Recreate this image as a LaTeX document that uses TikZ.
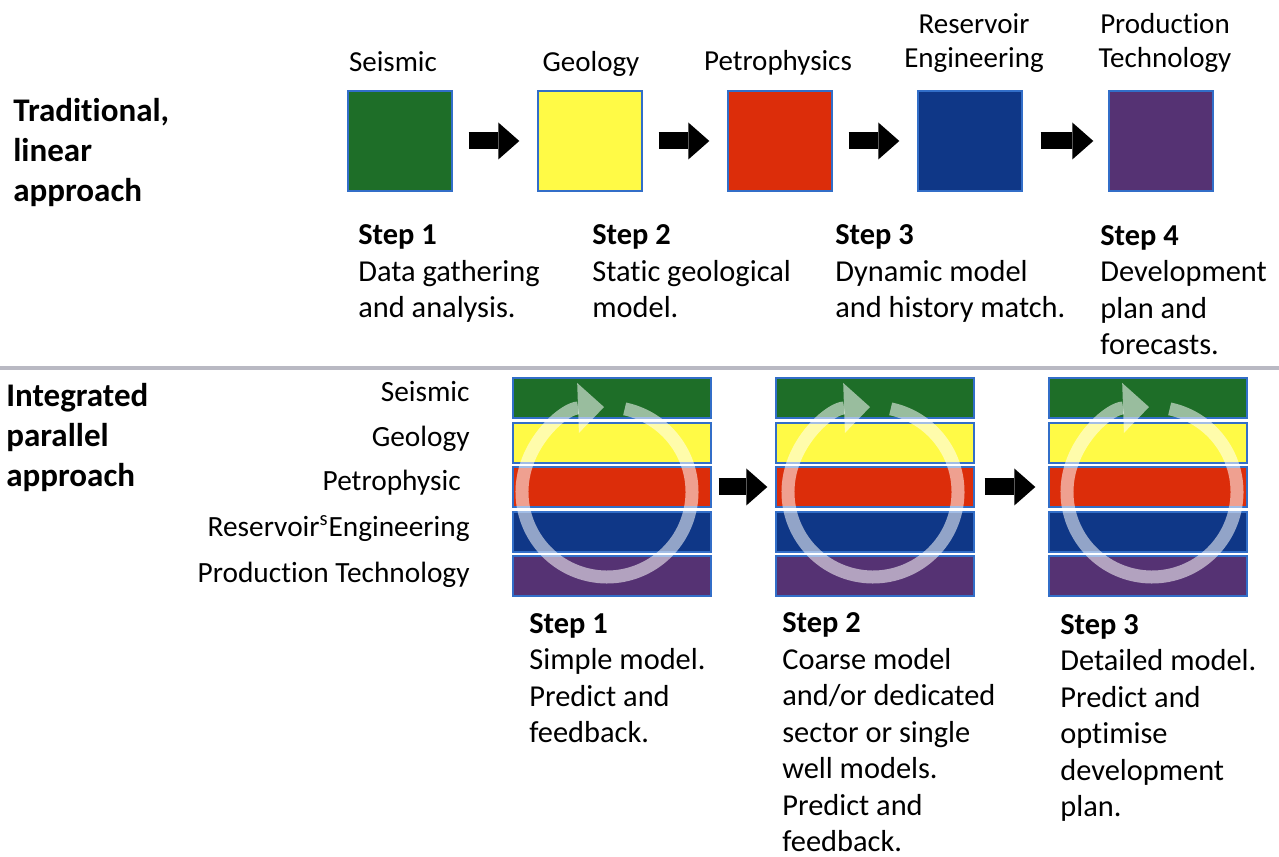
\documentclass[tikz,border=0pt]{standalone}
\usepackage{fontspec}
\setmainfont{Carlito}[Ligatures=NoCommon]
\usetikzlibrary{arrows.meta}
\definecolor{seisgreen}{RGB}{30,110,40}
\definecolor{geoyellow}{RGB}{255,250,70}
\definecolor{petrored}{RGB}{220,45,10}
\definecolor{resblue}{RGB}{15,55,135}
\definecolor{prodpurple}{RGB}{85,50,115}
\definecolor{edgeblue}{RGB}{50,110,200}
\definecolor{rulegray}{RGB}{185,185,195}
\begin{document}
\begin{tikzpicture}[x=0.02cm,y=-0.02cm,
    box/.style={draw=edgeblue,line width=0.8pt,minimum width=2.08cm,minimum height=2cm,inner sep=0pt},
    bar/.style={draw=edgeblue,line width=0.8pt,minimum width=3.96cm,minimum height=0.8cm,inner sep=0pt},
    blockarrow/.style={line width=0.34cm,-{Triangle[length=0.42cm,width=0.74cm,line width=0pt]}},
    ring/.style={white,opacity=0.55,line width=0.26cm,-{Triangle[length=0.52cm,width=1cm,line width=0pt]}},
    txt/.style={inner sep=0pt,anchor=base west,align=left,font=\fontsize{17.3}{20.8}\selectfont},
    lbl/.style={inner sep=0pt,anchor=base,align=center,font=\fontsize{16.5}{19.8}\selectfont},
    row/.style={inner sep=0pt,anchor=base east,font=\fontsize{16.7}{20}\selectfont},
    head/.style={inner sep=0pt,anchor=base west,align=left,font=\fontsize{18.8}{22.9}\selectfont\bfseries}]
  \useasboundingbox (0,0) rectangle (1279,857);
  \node[head] (trad) at (13,202) {Traditional,\\linear\\approach};
  \node[box,fill=seisgreen] (B1) at (400,141) {};
  \node[box,fill=geoyellow] (B2) at (590,141) {};
  \node[box,fill=petrored] (B3) at (780,141) {};
  \node[box,fill=resblue] (B4) at (970,141) {};
  \node[box,fill=prodpurple] (B5) at (1161,141) {};
  \node[lbl] (N1) at (393,72) {Seismic};
  \node[lbl] (N2) at (591,72) {Geology};
  \node[lbl] (N3) at (778,71) {Petrophysics};
  \node[lbl] (N4) at (974,68) {Reservoir\\Engineering};
  \node[lbl] (N5) at (1165,68) {Production\\Technology};
  \draw[blockarrow,shorten <=0.32cm,shorten >=0.36cm] (B1) -- (B2);
  \draw[blockarrow,shorten <=0.32cm,shorten >=0.36cm] (B2) -- (B3);
  \draw[blockarrow,shorten <=0.32cm,shorten >=0.36cm] (B3) -- (B4);
  \draw[blockarrow,shorten <=0.36cm,shorten >=0.3cm] (B4) -- (B5);
  \node[txt] (T1) at (358,318) {\textbf{Step 1}\\Data gathering\\and analysis.};
  \node[txt] (T2) at (592,318) {\textbf{Step 2}\\Static geological\\model.};
  \node[txt] (T3) at (835,318) {\textbf{Step 3}\\Dynamic model\\and history match.};
  \node[txt] (T4) at (1100,355) {\textbf{Step 4}\\Development\\plan and\\forecasts.};
  \coordinate (ruleL) at (0,368);
  \coordinate (ruleR) at (1279,368);
  \draw[rulegray,line width=0.08cm] (ruleL) -- (ruleR);
  \node[head] (integ) at (6,487) {Integrated\\parallel\\approach};
  \node[row] (RS) at (470,402) {Seismic};
  \node[row] (RG) at (470,447) {Geology};
  \node[row] (RP) at (461,491) {Petrophysic};
  \node[row] (RR) at (470,537) {Reservoir\textsuperscript{s}Engineering};
  \node[row] (RT) at (470,583) {Production Technology};
  \node[bar,fill=seisgreen] (S1) at (612,398) {};
  \node[bar,fill=geoyellow] (G1) at (612,443) {};
  \node[bar,fill=petrored] (P1) at (612,487) {};
  \node[bar,fill=resblue] (R1) at (612,532) {};
  \node[bar,fill=prodpurple] (D1) at (612,576) {};
  \node[bar,fill=seisgreen] (S2) at (875,398) {};
  \node[bar,fill=geoyellow] (G2) at (875,443) {};
  \node[bar,fill=petrored] (P2) at (875,487) {};
  \node[bar,fill=resblue] (R2) at (875,532) {};
  \node[bar,fill=prodpurple] (D2) at (875,576) {};
  \node[bar,fill=seisgreen] (S3) at (1148,398) {};
  \node[bar,fill=geoyellow] (G3) at (1148,443) {};
  \node[bar,fill=petrored] (P3) at (1148,487) {};
  \node[bar,fill=resblue] (R3) at (1148,532) {};
  \node[bar,fill=prodpurple] (D3) at (1148,576) {};
  \coordinate (C1) at (607,492);
  \coordinate (C2) at (873,492);
  \coordinate (C3) at (1152,492);
  \draw[ring] (C1) ++(-78:85) arc[start angle=-78,end angle=268,radius=85];
  \draw[ring] (C2) ++(-78:85) arc[start angle=-78,end angle=268,radius=85];
  \draw[ring] (C3) ++(-78:85) arc[start angle=-78,end angle=268,radius=85];
  \draw[blockarrow,shorten <=0.14cm,shorten >=0.16cm] (P1) -- (P2);
  \draw[blockarrow,shorten <=0.2cm,shorten >=0.26cm] (P2) -- (P3);
  \node[txt] (U1) at (529,743) {\textbf{Step 1}\\Simple model.\\Predict and\\feedback.};
  \node[txt] (U2) at (782,852) {\textbf{Step 2}\\Coarse model\\and/or dedicated\\sector or single\\well models.\\Predict and\\feedback.};
  \node[txt] (U3) at (1060,817) {\textbf{Step 3}\\Detailed model.\\Predict and\\optimise\\development\\plan.};
\end{tikzpicture}
\end{document}
